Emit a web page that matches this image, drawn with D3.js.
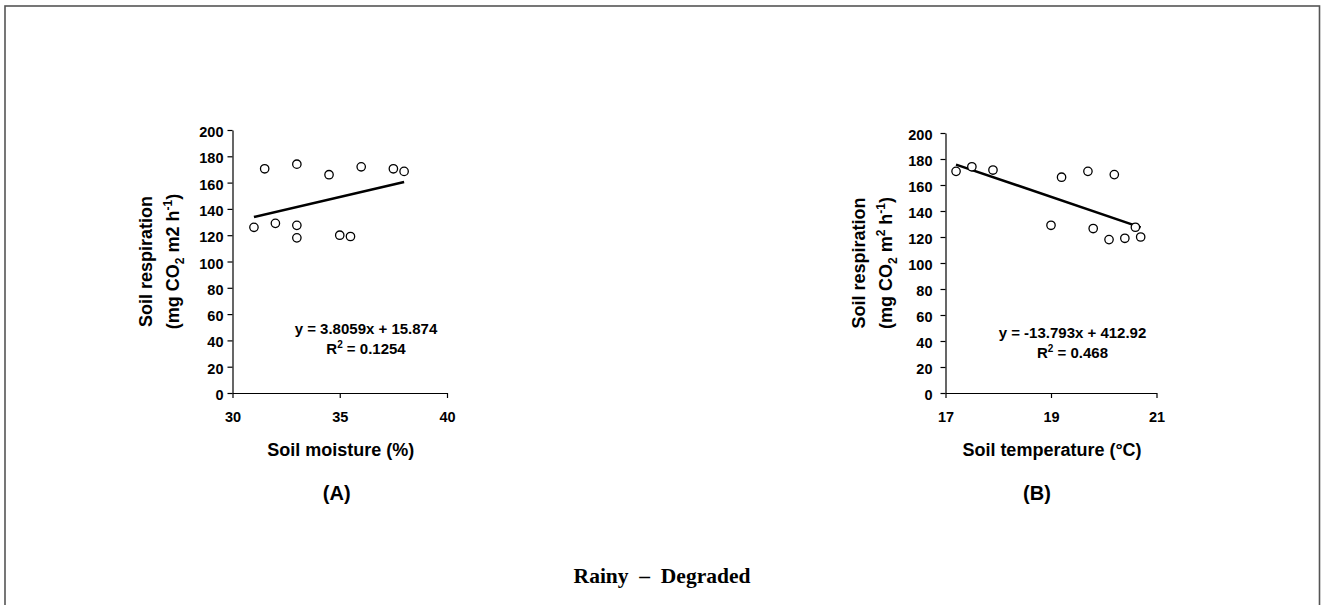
<!DOCTYPE html>
<html>
<head>
<meta charset="utf-8">
<script src="https://cdn.jsdelivr.net/npm/d3@7"></script>
<style>
  html, body { margin: 0; padding: 0; background: #fff; }
  svg { display: block; }
  text { font-family: "Liberation Sans", Arial, sans-serif; font-weight: bold; fill: #000; }
</style>
</head>
<body>
<svg id="chart" width="1322" height="605"></svg>
<script>
// ---- data ----
const moistureA = [31, 31.5, 32, 33, 33, 33, 34.5, 35, 35.5, 36, 37.5, 38];
const respirationA = [126, 170.5, 129, 174, 127.5, 118, 166, 120, 119, 172, 170.5, 168.5];
const temperatureB = [17.2, 17.5, 17.9, 19, 19.2, 19.7, 19.8, 20.1, 20.2, 20.4, 20.6, 20.7];
const respirationB = [170.5, 174, 171.5, 129, 166, 170.5, 126.5, 118, 168, 119, 127.5, 120];

const xTicksA = [30, 35, 40];
const xTicksB = [17, 19, 21];
const yTicks = [0, 20, 40, 60, 80, 100, 120, 140, 160, 180, 200];

const fitA = { slope: 3.8059, intercept: 15.874, r2: "0.1254", xFrom: 31, xTo: 38 };
const fitB = { slope: -13.793, intercept: 412.92, r2: "0.468", xFrom: 17.2, xTo: 20.7 };
const eqTextA = "y = 3.8059x + 15.874";
const eqTextB = "y = -13.793x + 412.92";

const svg = d3.select("#chart");

// outer frame
svg.append("rect")
  .attr("x", 5).attr("y", 6)
  .attr("width", 1314.5).attr("height", 620)
  .attr("fill", "none").attr("stroke", "#555").attr("stroke-width", 1.6);

function panel(cfg) {
  const g = svg.append("g");
  const x = d3.scaleLinear().domain(cfg.xDomain).range([cfg.left, cfg.right]);
  const y = d3.scaleLinear().domain([0, 200]).range([cfg.bottom, cfg.top]);

  // x axis
  const xa = g.append("g").attr("transform", `translate(0,${cfg.bottom})`)
    .call(d3.axisBottom(x).tickValues(cfg.xTicks).tickSize(5).tickSizeOuter(0).tickPadding(0).tickFormat(d3.format("d")));
  xa.select(".domain").attr("stroke", "#000").attr("stroke-width", 1.2);
  xa.selectAll(".tick line").attr("stroke", "#000").attr("stroke-width", 1.2);
  xa.selectAll(".tick text").attr("y", 29).attr("dy", null)
    .style("font-size", "14.5px").style("font-family", "Liberation Sans, Arial, sans-serif").style("font-weight", "bold");

  // y axis
  const ya = g.append("g").attr("transform", `translate(${cfg.left},0)`)
    .call(d3.axisLeft(y).tickValues(yTicks).tickSize(5).tickSizeOuter(0).tickFormat(d3.format("d")));
  ya.select(".domain").attr("stroke", "#000").attr("stroke-width", 1.2);
  ya.selectAll(".tick line").attr("stroke", "#000").attr("stroke-width", 1.2);
  ya.selectAll(".tick text").attr("x", -cfg.yLabelGap).attr("dy", null).attr("y", 6.5)
    .style("font-size", "14.5px").style("font-family", "Liberation Sans, Arial, sans-serif").style("font-weight", "bold");

  // trend line
  const fit = cfg.fit;
  const line = d3.line().x(d => x(d)).y(d => y(fit.slope * d + fit.intercept));
  g.append("path").datum([fit.xFrom, fit.xTo])
    .attr("d", line).attr("stroke", "#000").attr("stroke-width", 2.6).attr("fill", "none");

  // points
  g.selectAll("circle.pt").data(cfg.xs.map((v, i) => [v, cfg.ys[i]])).enter()
    .append("circle").attr("class", "pt")
    .attr("cx", d => x(d[0])).attr("cy", d => y(d[1])).attr("r", 4.2)
    .attr("fill", "#fff").attr("stroke", "#000").attr("stroke-width", 1.3);

  // equation
  const ex = cfg.eqX;
  g.append("text").attr("x", ex).attr("y", cfg.eqY).attr("text-anchor", "middle")
    .style("font-size", "15px").text(cfg.eqText);
  const r2 = g.append("text").attr("x", ex).attr("y", cfg.eqY + 19.5).attr("text-anchor", "middle")
    .style("font-size", "15px");
  r2.append("tspan").text("R");
  r2.append("tspan").attr("dy", -6).style("font-size", "10px").text("2");
  r2.append("tspan").attr("dy", 6).text(" = " + fit.r2);

  // y axis title
  const cy = (cfg.top + cfg.bottom) / 2;
  g.append("text").attr("transform", `translate(${cfg.left - 81},${cy}) rotate(-90)`)
    .attr("text-anchor", "middle").style("font-size", "18px").text("Soil respiration");
  const t2 = g.append("text").attr("transform", `translate(${cfg.left - 54},${cy}) rotate(-90)`)
    .attr("text-anchor", "middle").style("font-size", "18px");
  t2.append("tspan").text("(mg CO");
  t2.append("tspan").attr("dy", 5).style("font-size", "12px").text("2");
  if (cfg.m2sup) {
    t2.append("tspan").attr("dy", -5).text(" m");
    t2.append("tspan").attr("dy", -7).style("font-size", "12px").text("2");
    t2.append("tspan").attr("dy", 7).text(" h");
  } else {
    t2.append("tspan").attr("dy", -5).text(" m2 h");
  }
  t2.append("tspan").attr("dy", -7).style("font-size", "12px").text("-1");
  t2.append("tspan").attr("dy", 7).text(")");

  // x axis title
  g.append("text").attr("x", (cfg.left + cfg.right) / 2 + cfg.xTitleShift).attr("y", 456)
    .attr("text-anchor", "middle").style("font-size", "18px").text(cfg.xTitle);
  // panel label
  g.append("text").attr("x", (cfg.left + cfg.right) / 2 + cfg.panelShift).attr("y", 500)
    .attr("text-anchor", "middle").style("font-size", "20px").text(cfg.panelLabel);
}

panel({
  left: 232.5, right: 447, top: 130, bottom: 393,
  xDomain: [30, 40], xTicks: xTicksA, xs: moistureA, ys: respirationA,
  fit: fitA, eqText: eqTextA, eqX: 366, eqY: 334, yLabelGap: 9, m2sup: false,
  xTitle: "Soil moisture (%)", xTitleShift: 1, panelLabel: "(A)", panelShift: -3
});
panel({
  left: 945.5, right: 1156.5, top: 133, bottom: 393,
  xDomain: [17, 21], xTicks: xTicksB, xs: temperatureB, ys: respirationB,
  fit: fitB, eqText: eqTextB, eqX: 1072.5, eqY: 338, yLabelGap: 13, m2sup: true,
  xTitle: "Soil temperature (°C)", xTitleShift: 1, panelLabel: "(B)", panelShift: -14
});

// bottom title
svg.append("text").attr("x", 662).attr("y", 583).attr("text-anchor", "middle")
  .style("font-family", "Liberation Serif, 'Times New Roman', serif").style("font-size", "21.5px")
  .style("white-space", "pre").attr("fill", "#222")
  .text("Rainy  \u2013  Degraded");
</script>
</body>
</html>
